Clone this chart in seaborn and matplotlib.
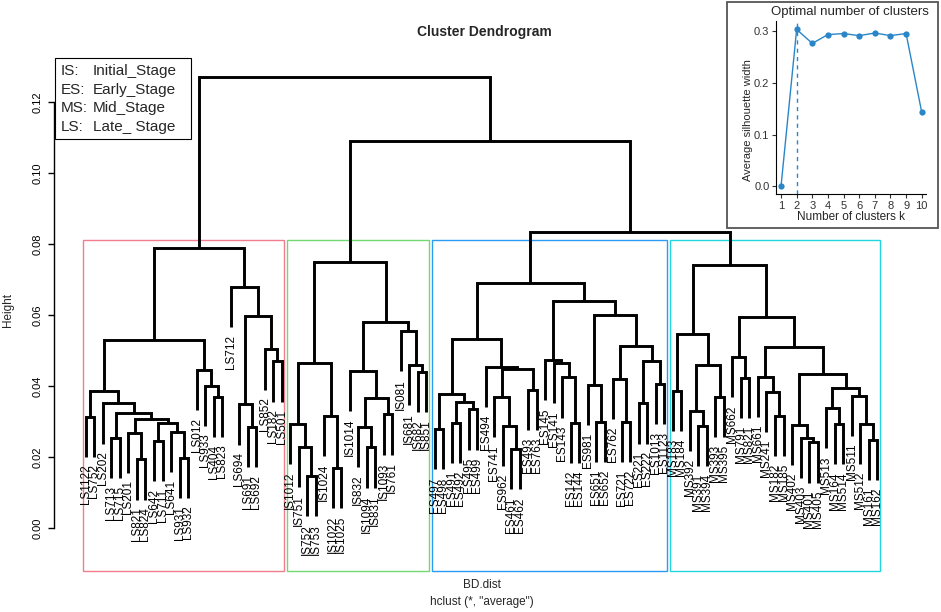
import matplotlib
matplotlib.use("Agg")
import matplotlib.pyplot as plt
import seaborn as sns
import pandas as pd
from matplotlib.patches import Rectangle

# dendrogram sub-trees, written as (merge height, left, right); leaves are sample names
ls_tree = (0.0788,
           (0.0530,
            (0.0386,
             (0.0314, "LS1122", "LS752"),
             (0.0351, "LS202",
              (0.0323,
               (0.0253, "LS713", "LS715"),
               (0.0306,
                (0.0269, "LS201", (0.0193, "LS821", "LS824")),
                (0.0297,
                 (0.0245, "LS642", "LS711"),
                 (0.0271, "LS641", (0.0198, "LS931", "LS932"))))))),
            (0.0445, "LS012", (0.0401, "LS933", (0.0370, "LS404", "LS823")))),
           (0.0678, "LS712",
            (0.0598,
             (0.0348, "LS694", (0.0284, "LS691", "LS692")),
             (0.0503, "LS852", (0.0469, "LS182", "LS501")))))

is_tree = (0.0750,
           (0.0464,
            (0.0293, "IS1012", (0.0229, "IS751", (0.0147, "IS752", "IS753"))),
            (0.0315, "IS1024", (0.0170, "IS1022", "IS1025"))),
           (0.0579,
            (0.0443, "IS1014",
             (0.0365,
              (0.0285, "IS832", (0.0227, "IS1094", "IS831")),
              (0.0320, "IS1093", "IS761"))),
            (0.0555, "IS081", (0.0459, "IS681", (0.0440, "IS682", "IS851")))))

es_tree = (0.0689,
           (0.0532,
            (0.0377,
             (0.0278, "ES497", "ES498"),
             (0.0354, (0.0297, "ES491", "ES492"), (0.0334, "ES495", "ES499"))),
            (0.0453, "ES494",
             (0.0449,
              (0.0368, "ES741", (0.0288, "ES962", (0.0222, "ES461", "ES462"))),
              (0.0389, "ES493", "ES763")))),
           (0.0638,
            (0.0473, "ES145", (0.0464, "ES141", (0.0424, "ES143", (0.0297, "ES142", "ES144")))),
            (0.0600,
             (0.0403, "ES981", (0.0300, "ES651", "ES652")),
             (0.0514,
              (0.0420, "ES762", (0.0298, "ES721", "ES722")),
              (0.0471, (0.0351, "ES221", "ES222"), (0.0406, "ES1013", "ES1123"))))))

ms_tree = (0.0741,
           (0.0546,
            (0.0386, "MS183", "MS184"),
            (0.0459,
             (0.0330, "MS392", (0.0288, "MS391", "MS394")),
             (0.0370, "MS393", "MS395"))),
           (0.0595,
            (0.0481, "MS662", (0.0423, "MS791", "MS821")),
            (0.0511,
             (0.0426, "MS661", (0.0384, "MS241", (0.0315, "MS182", "MS185"))),
             (0.0433,
              (0.0290, "MS402", (0.0254, "MS403", (0.0241, "MS401", "MS405"))),
              (0.0395,
               (0.0337, "MS513", (0.0292, "MS164", "MS514")),
               (0.0373, "MS511", (0.0293, "MS512", (0.0248, "MS161", "MS162"))))))))

top_heights = [0.1270, 0.1090, 0.0834]   # root, IS vs (ES+MS), ES vs MS
cluster_trees = [ls_tree, is_tree, es_tree, ms_tree]
rect_colors = ["#F27D8E", "#72D872", "#2B9CF5", "#22D6E0"]

height_ticks = [0.00, 0.02, 0.04, 0.06, 0.08, 0.10, 0.12]

stage_keys = ["IS:", "ES:", "MS:", "LS:"]
stage_names = ["Initial_Stage", "Early_Stage", "Mid_Stage", "Late_ Stage"]

k_values = [1, 2, 3, 4, 5, 6, 7, 8, 9, 10]
sil_width = [0.0, 0.303, 0.276, 0.293, 0.295, 0.291, 0.296, 0.291, 0.295, 0.143]
best_k = 2

hang = 0.0113
ybottom = -0.0121

sns.set_theme(style="white")
plt.rcParams["font.family"] = ["Liberation Sans", "DejaVu Sans"]

fig = plt.figure(figsize=(9.41, 6.12), dpi=100)
ax = fig.add_axes([0.0577, 0.067, 0.908, 0.839])

tree = (top_heights[0], ls_tree, (top_heights[1], is_tree, (top_heights[2], es_tree, ms_tree)))

counter = [0]
all_heights = []


def draw(node):
    # returns x position and merge height (None for a leaf)
    if isinstance(node, str):
        counter[0] += 1
        return counter[0], None
    h, left, right = node
    all_heights.append(h)
    xl, hl = draw(left)
    xr, hr = draw(right)
    bl = hl if hl is not None else h - hang
    br = hr if hr is not None else h - hang
    ax.plot([xl, xl, xr, xr], [bl, h, h, br], color="black", lw=2.1,
            solid_joinstyle="miter", solid_capstyle="butt", zorder=3)
    for x, hc, child in ((xl, hl, left), (xr, hr, right)):
        if hc is None:
            ax.text(x, h - hang - 0.0022, child, rotation=90, ha="center", va="top",
                    fontsize=8.5, color="black", zorder=4)
    return (xl + xr) / 2, h


def n_leaves(node):
    if isinstance(node, str):
        return 1
    return n_leaves(node[1]) + n_leaves(node[2])


draw(tree)

ax.set_xlim(-2.72, 97.72)
ax.set_ylim(ybottom, 0.1325)

# rect.hclust style boxes for k = 4
hs = sorted(all_heights, reverse=True)
rect_top = (hs[2] + hs[3]) / 2
start = 1
for sub, col in zip(cluster_trees, rect_colors):
    n = n_leaves(sub)
    x0 = start - 0.34
    x1 = start + n - 1 + 0.33
    ax.add_patch(Rectangle((x0, ybottom), x1 - x0, rect_top - ybottom, fill=False,
                           edgecolor=col, lw=1.0, zorder=2, clip_on=False))
    start += n

ax.set_xticks([])
ax.set_yticks(height_ticks)
ax.set_yticklabels([f"{t:.2f}" for t in height_ticks], rotation=90, va="center")
ax.tick_params(axis="y", direction="out", length=4.5, width=1, pad=4, labelsize=8,
               colors="black", left=True)
for s in ["top", "right", "bottom"]:
    ax.spines[s].set_visible(False)
ax.spines["left"].set_bounds(0, 0.12)
ax.spines["left"].set_color("black")
ax.spines["left"].set_linewidth(1)
ax.set_facecolor("none")
ax.grid(False)

fig.text(8 / 941, 1 - 310 / 612, "Height", rotation=90, ha="center", va="center", fontsize=8.5)
fig.text(484 / 941, 1 - 32 / 612, "Cluster Dendrogram", ha="center", va="center",
         fontsize=10, fontweight="bold")
fig.text(482 / 941, 1 - 585 / 612, "BD.dist", ha="center", va="center", fontsize=8.5)
fig.text(482 / 941, 1 - 602 / 612, 'hclust (*, "average")', ha="center", va="center", fontsize=8.5)

# stage legend box
fig.patches.append(Rectangle((55 / 941, 1 - 139 / 612), 135.7 / 941, 80.7 / 612,
                             transform=fig.transFigure, facecolor="white",
                             edgecolor="black", lw=0.8, zorder=5))
for i, (k, name) in enumerate(zip(stage_keys, stage_names)):
    yb = 1 - (75 + i * 18.7) / 612
    fig.text(61 / 941, yb, k, ha="left", va="baseline", fontsize=11, zorder=6)
    fig.text(93 / 941, yb, name, ha="left", va="baseline", fontsize=11, zorder=6)

# inset: optimal number of clusters
blue = "#2A86C8"
fig.patches.append(Rectangle((727 / 941, 1 - 228 / 612), 211 / 941, 226 / 612,
                             transform=fig.transFigure, facecolor="white",
                             edgecolor="#555555", lw=1.3, zorder=1))
axi = fig.add_axes([0.825, 0.6827, 0.1595, 0.2827])
axi.set_zorder(7)
df = pd.DataFrame({"k": k_values, "sil": sil_width})
sns.lineplot(data=df, x="k", y="sil", ax=axi, color=blue, lw=1.0, marker="o",
             markersize=4.5, markeredgewidth=0)
axi.axvline(best_k, color=blue, lw=1.0, ls=(0, (3, 3)))
axi.set_xlim(0.7, 10.3)
axi.set_ylim(-0.0152, 0.3189)
axi.set_xticks(k_values)
axi.set_yticks([0.0, 0.1, 0.2, 0.3])
axi.set_yticklabels(["0.0", "0.1", "0.2", "0.3"])
axi.tick_params(direction="out", length=3, width=0.8, pad=2, labelsize=8,
                colors="#333333", left=True, bottom=True)
axi.set_xlabel("")
axi.set_ylabel("")
axi.set_facecolor("none")
for s in ["top", "right"]:
    axi.spines[s].set_visible(False)
for s in ["left", "bottom"]:
    axi.spines[s].set_color("black")
    axi.spines[s].set_linewidth(0.8)
axi.grid(False)

fig.text(850 / 941, 1 - 12 / 612, "Optimal number of clusters", ha="center", va="center", fontsize=9.5)
fig.text(748 / 941, 1 - 120 / 612, "Average silhouette width", rotation=90,
         ha="center", va="center", fontsize=8)
fig.text(851 / 941, 1 - 217 / 612, "Number of clusters k", ha="center", va="center", fontsize=8.5)

fig.savefig("out.png", dpi=100)
